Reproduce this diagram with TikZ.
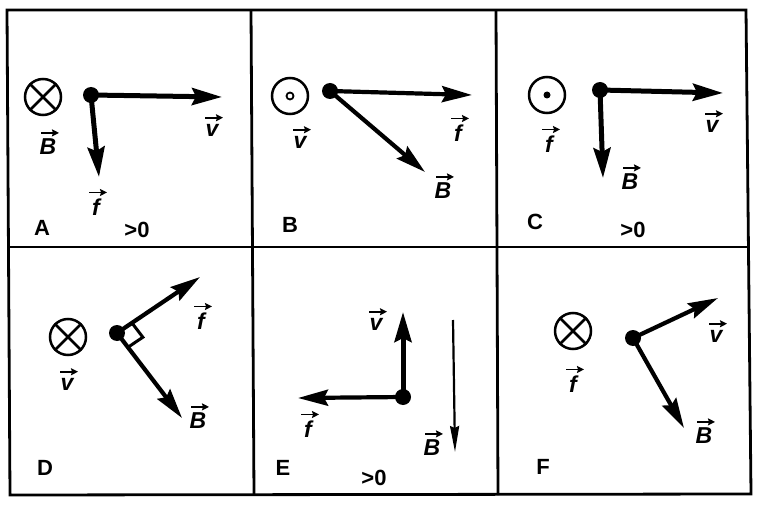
\documentclass[tikz,border=0pt]{standalone}
\usepackage{fontspec}
\setmainfont{Liberation Sans}
\usetikzlibrary{arrows.meta,calc}
\begin{document}
\begin{tikzpicture}[x=1pt,y=-1pt,
  vec/.style={line width=5pt,-{Stealth[length=30pt,width=17pt,inset=4pt]}},
  vecm/.style={line width=4.2pt,-{Stealth[length=30pt,width=16pt,inset=4pt]}},
  vect/.style={line width=2.2pt,-{Stealth[length=26pt,width=9pt,inset=2pt]}},
  larr/.style={line width=1.6pt,-{Stealth[length=7pt,width=7pt,inset=1pt]}},
  dotc/.style={circle,fill,inner sep=0pt,minimum size=16pt},
  field/.style={circle,draw,line width=2.5pt,minimum size=36pt,inner sep=0pt},
  lab/.style={inner sep=0pt,font=\fontsize{23}{26}\selectfont\bfseries\itshape},
  plab/.style={inner sep=0pt,font=\fontsize{22}{26}\selectfont\bfseries},
  frame/.style={line width=2.8pt}]
\newcommand{\vlab}[3]{%
  \node[lab] (#1) at (#2) {#3};
  \draw[larr] ([yshift=6pt,xshift=-7pt]#1.north) -- ([yshift=6pt,xshift=11pt]#1.north);}
\useasboundingbox (0,0) rectangle (757,505);
\fill[white] (0,0) rectangle (757,505);
% frame
\draw[frame] (7,10) -- (746,10) -- (751,494) -- (10,495) -- cycle;
\draw[frame] (8,247) -- (748,247);
\draw[frame] (251,10) -- (254,495);
\draw[frame] (496,10) -- (498,495);

% ---------- A ----------
\node[field] (aO) at (43,97) {};
\draw[line width=2.5pt] (aO.north west) -- (aO.south east) (aO.north east) -- (aO.south west);
\node[dotc] (aD) at (91,95) {};
\coordinate (aV) at (222,97);
\coordinate (aF) at (99,177);
\draw[vec] (aD.center) -- (aV);
\draw[vec] (aD.center) -- (aF);
\vlab{aLB}{48,147}{B}
\vlab{aLV}{212,130}{v}
\vlab{aLF}{96,207}{f}
\node[plab] (aA) at (42,228) {A};
\node[plab] (aG) at (137,230) {>0};

% ---------- B ----------
\node[field] (bO) at (290,96) {};
\node[circle,draw,line width=1.8pt,minimum size=7pt,inner sep=0pt] (bOi) at (bO.center) {};
\node[dotc] (bD) at (330,91) {};
\coordinate (bF) at (472,95);
\coordinate (bB) at (425,172);
\draw[vecm] (bD.center) -- (bF);
\draw[vecm] (bD.center) -- (bB);
\vlab{bLV}{300,142}{v}
\vlab{bLF}{458,133}{f}
\vlab{bLB}{443,191}{B}
\node[plab] (bA) at (290,225) {B};

% ---------- C ----------
\node[field] (cO) at (547,95) {};
\node[circle,fill,minimum size=7pt,inner sep=0pt] (cOi) at (cO.center) {};
\node[dotc] (cD) at (600,90) {};
\coordinate (cV) at (723,93);
\coordinate (cB) at (603,178);
\draw[vec] (cD.center) -- (cV);
\draw[vec] (cD.center) -- (cB);
\vlab{cLF}{549,144}{f}
\vlab{cLV}{712,126}{v}
\vlab{cLB}{630,182}{B}
\node[plab] (cA) at (535,222) {C};
\node[plab] (cG) at (633,230) {>0};

% ---------- D ----------
\node[field] (dO) at (68,337) {};
\draw[line width=2.5pt] (dO.north west) -- (dO.south east) (dO.north east) -- (dO.south west);
\node[dotc] (dD) at (117,333) {};
\coordinate (dF) at (200,277);
\coordinate (dB) at (182,418);
\draw[vecm] (dD.center) -- (dF);
\draw[vecm] (dD.center) -- (dB);
\coordinate (dS1) at ($(dD.center)!18pt!(dF)$);
\coordinate (dS3) at ($(dD.center)!18pt!(dB)$);
\coordinate (dS2) at ($(dS1)+(dS3)-(dD.center)$);
\draw[line width=3pt] (dS1) -- (dS2) -- (dS3);
\vlab{dLV}{67,384}{v}
\vlab{dLF}{201,321}{f}
\vlab{dLB}{198,421}{B}
\node[plab] (dA) at (45,468) {D};

% ---------- E ----------
\node[dotc] (eD) at (403,397) {};
\coordinate (eV) at (403,312);
\coordinate (eF) at (298,398);
\draw[vec] (eD.center) -- (eV);
\draw[vecm] (eD.center) -- (eF);
\coordinate (eB0) at (453,320);
\coordinate (eB1) at (455,452);
\draw[vect] (eB0) -- (eB1);
\vlab{eLV}{376,324}{v}
\vlab{eLF}{308,429}{f}
\vlab{eLB}{432,448}{B}
\node[plab] (eA) at (283,468) {E};
\node[plab] (eG) at (374,478) {>0};

% ---------- F ----------
\node[field] (fO) at (573,331) {};
\draw[line width=2.5pt] (fO.north west) -- (fO.south east) (fO.north east) -- (fO.south west);
\node[dotc] (fD) at (633,338) {};
\coordinate (fV) at (718,298);
\coordinate (fB) at (684,428);
\draw[vecm] (fD.center) -- (fV);
\draw[vecm] (fD.center) -- (fB);
\vlab{fLF}{573,384}{f}
\vlab{fLV}{716,336}{v}
\vlab{fLB}{704,436}{B}
\node[plab] (fA) at (543,467) {F};
\end{tikzpicture}
\end{document}
